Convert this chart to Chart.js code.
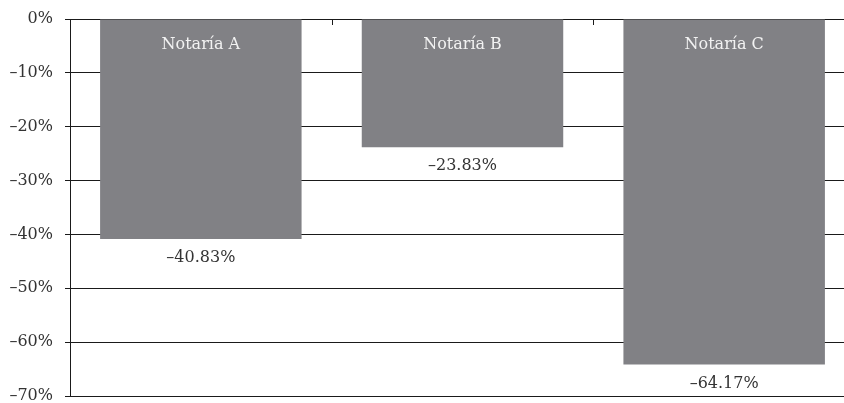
<!DOCTYPE html>
<html>
<head>
<meta charset="utf-8">
<script src="https://cdn.jsdelivr.net/npm/chart.js@4.4.1/dist/chart.umd.min.js"></script>
<style>
  html, body { margin: 0; padding: 0; background: #fff; }
  #wrap { width: 844px; height: 403px; overflow: hidden; position: relative; }
  #chart { display: block; }
</style>
</head>
<body>
<div id="wrap"><canvas id="chart" width="860" height="403"></canvas></div>
<script>
  // ---- data ----
  const notarias = ['Notaría A', 'Notaría B', 'Notaría C'];
  const variacion = [-40.83, -23.83, -64.17];
  const yTicks = [0, -10, -20, -30, -40, -50, -60, -70];

  const FONT = '"DejaVu Serif", "Liberation Serif", serif';
  const BAR = '#818185';
  const INK = '#1a1a1a';
  const TEXT = '#333';

  const pct = v => (v === 0 ? '0%' : '\u2013' + Math.abs(v) + '%');
  const pct2 = v => (v < 0 ? '\u2013' : '') + Math.abs(v).toFixed(2) + '%';

  // bar names inside the top of each bar, values just below its end
  const barLabels = {
    id: 'barLabels',
    afterDatasetsDraw(chart) {
      const ctx = chart.ctx;
      const meta = chart.getDatasetMeta(0);
      const { top } = chart.chartArea;
      ctx.save();
      ctx.font = '16px ' + FONT;
      ctx.textAlign = 'center';
      ctx.textBaseline = 'middle';
      meta.data.forEach((bar, i) => {
        ctx.fillStyle = '#f2f2f2';
        ctx.fillText(notarias[i], bar.x, top + 26);
        ctx.fillStyle = TEXT;
        ctx.fillText(pct2(variacion[i]), bar.x, bar.y + 19);
      });
      ctx.restore();
    },
  };

  // short ticks hanging from the zero line between categories
  const catTicks = {
    id: 'catTicks',
    afterDraw(chart) {
      const x = chart.scales.x;
      const { top } = chart.chartArea;
      const ctx = chart.ctx;
      ctx.save();
      ctx.strokeStyle = INK;
      ctx.lineWidth = 1;
      for (let i = 1; i < notarias.length; i++) {
        const px = Math.round((x.getPixelForValue(i - 1) + x.getPixelForValue(i)) / 2) + 0.5;
        ctx.beginPath(); ctx.moveTo(px, top); ctx.lineTo(px, top + 6); ctx.stroke();
      }
      ctx.restore();
    },
  };

  new Chart(document.getElementById('chart'), {
    type: 'bar',
    data: {
      labels: notarias,
      datasets: [{
        data: variacion,
        backgroundColor: BAR,
        borderWidth: 0,
        categoryPercentage: 1,
        barPercentage: 0.77,
      }],
    },
    options: {
      responsive: false,
      animation: false,
      layout: { padding: { top: 19, bottom: 7, left: 0, right: 5 } },
      plugins: { legend: { display: false }, tooltip: { enabled: false } },
      scales: {
        x: { display: false },
        y: {
          min: -70,
          max: 0,
          afterBuildTicks(scale) { scale.ticks = yTicks.map(v => ({ value: v })); },
          afterFit(scale) {
            scale.width = 70;
            scale.paddingTop = 0;
            scale.paddingBottom = 0;
          },
          border: { display: true, color: INK, width: 1 },
          grid: { color: INK, lineWidth: 1, drawTicks: true, tickLength: 5, tickColor: INK },
          ticks: {
            color: TEXT,
            padding: 12,
            font: { family: FONT, size: 16 },
            callback: v => pct(v),
          },
        },
      },
    },
    plugins: [barLabels, catTicks],
  });
</script>
</body>
</html>
